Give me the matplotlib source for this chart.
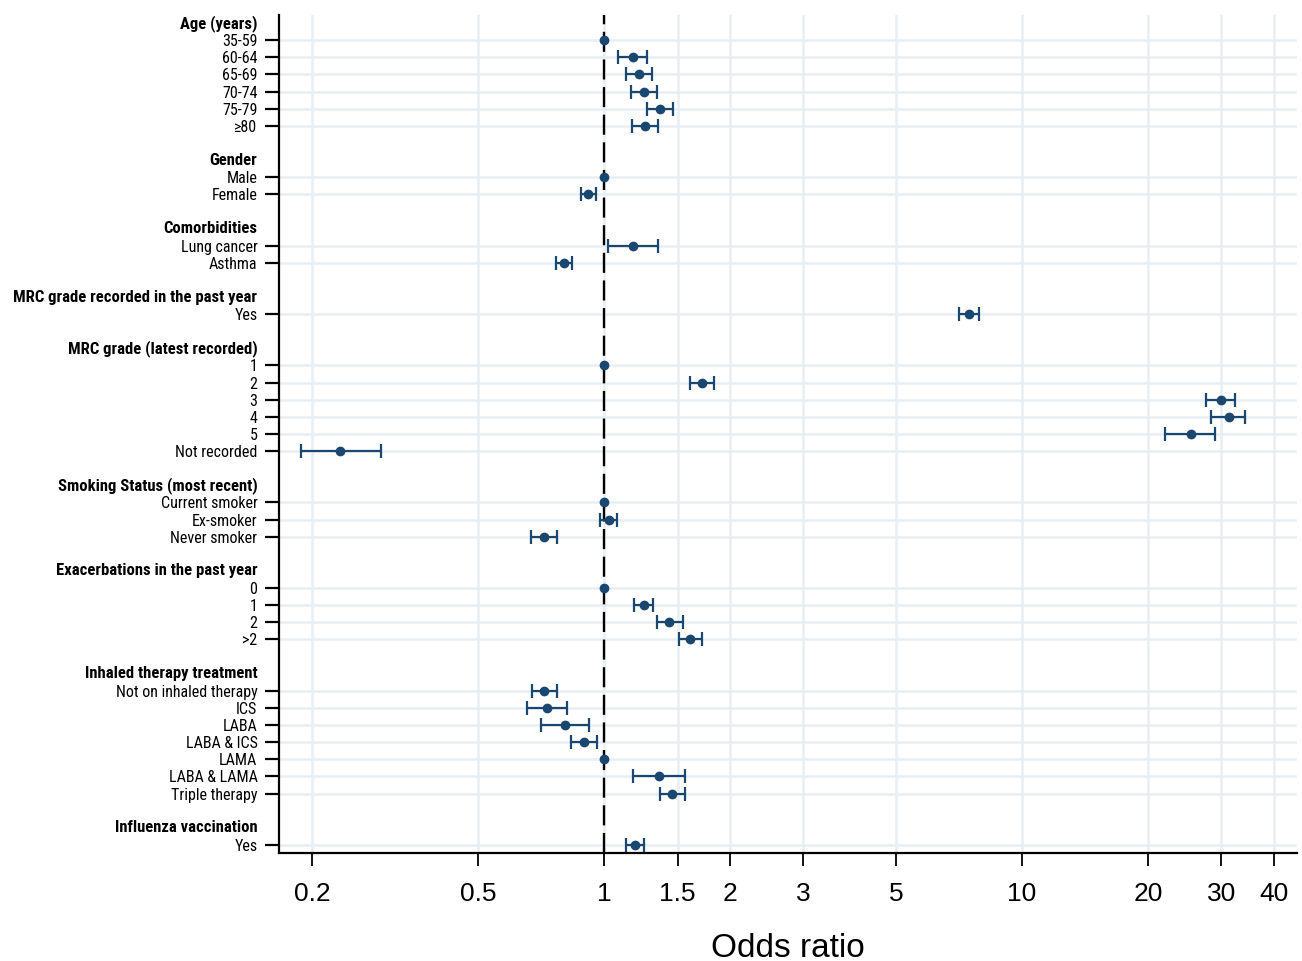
import numpy as np
import matplotlib
matplotlib.use("Agg")
import matplotlib.pyplot as plt
from matplotlib import font_manager
from matplotlib.ticker import NullLocator

# group headers and the rows under each
headers = ["Age (years)", "Gender", "Comorbidities",
           "MRC grade recorded in the past year", "MRC grade (latest recorded)",
           "Smoking Status (most recent)", "Exacerbations in the past year",
           "Inhaled therapy treatment", "Influenza vaccination"]

items = [
    ["35-59", "60-64", "65-69", "70-74", "75-79", "\u226580"],
    ["Male", "Female"],
    ["Lung cancer", "Asthma"],
    ["Yes"],
    ["1", "2", "3", "4", "5", "Not recorded"],
    ["Current smoker", "Ex-smoker", "Never smoker"],
    ["0", "1", "2", ">2"],
    ["Not on inhaled therapy", "ICS", "LABA", "LABA & ICS", "LAMA", "LABA & LAMA", "Triple therapy"],
    ["Yes"],
]

# odds ratios (None = reference category, no CI)
odds = [
    [1.0, 1.17, 1.21, 1.245, 1.36, 1.255],
    [1.0, 0.917],
    [1.17, 0.80],
    [7.47],
    [1.0, 1.716, 29.9, 31.2, 25.3, 0.234],
    [1.0, 1.025, 0.717],
    [1.0, 1.245, 1.434, 1.607],
    [0.719, 0.730, 0.808, 0.896, 1.0, 1.353, 1.456],
    [1.183],
]
lower = [
    [None, 1.083, 1.128, 1.159, 1.264, 1.168],
    [None, 0.880],
    [1.022, 0.766],
    [7.07],
    [None, 1.603, 27.6, 28.4, 22.0, 0.188],
    [None, 0.976, 0.668],
    [None, 1.180, 1.336, 1.512],
    [0.671, 0.656, 0.708, 0.835, None, 1.174, 1.360],
    [1.128],
]
upper = [
    [None, 1.267, 1.303, 1.336, 1.463, 1.349],
    [None, 0.957],
    [1.343, 0.839],
    [7.91],
    [None, 1.837, 32.4, 34.1, 29.0, 0.293],
    [None, 1.077, 0.772],
    [None, 1.309, 1.543, 1.716],
    [0.770, 0.814, 0.923, 0.962, None, 1.562, 1.559],
    [1.245],
]

xticks = [0.2, 0.5, 1, 1.5, 2, 3, 5, 10, 20, 30, 40]
xtick_labels = ["0.2", "0.5", "1", "1.5", "2", "3", "5", "10", "20", "30", "40"]

navy = "#1a476f"
gridc = "#e7eff2"


# look for a condensed sans face for the row labels
def pick_narrow():
    names = {f.name for f in font_manager.fontManager.ttflist}
    for n in ["Liberation Sans Narrow", "Arial Narrow", "Roboto Condensed",
              "Open Sans Condensed", "Noto Sans Condensed", "DejaVu Sans Condensed"]:
        if n in names:
            return n, "normal"
    for pref in ["Liberation Sans", "Noto Sans", "Roboto", "Open Sans", "DejaVu Sans", "Inter"]:
        for f in font_manager.fontManager.ttflist:
            st = f.stretch
            if isinstance(st, str):
                st = font_manager.stretch_dict.get(st, 500)
            if f.name == pref and st <= 400:
                return pref, "condensed"
    return None, "normal"


narrow, stretch = pick_narrow()
if narrow:
    plt.rcParams["font.family"] = [narrow, "DejaVu Sans"]
    plt.rcParams["font.stretch"] = stretch
    ysize, hsize = 11.5, 12
else:
    plt.rcParams["font.family"] = ["Liberation Sans", "DejaVu Sans"]
    ysize, hsize = 10, 10
axis_font = ["Liberation Sans", "DejaVu Sans"]

# lay the rows out: header, items, blank line
header_pos = []
row_pos, row_lab, est, lo, hi = [], [], [], [], []
r = 0
for h, its, o, l, u in zip(headers, items, odds, lower, upper):
    header_pos.append(r)
    r += 1
    for name, oo, ll, uu in zip(its, o, l, u):
        row_pos.append(r)
        row_lab.append(name)
        est.append(oo)
        lo.append(np.nan if ll is None else ll)
        hi.append(np.nan if uu is None else uu)
        r += 1
    r += 1
n_rows = r - 1

row_pos = np.array(row_pos)
est = np.array(est, dtype=float)
lo = np.array(lo, dtype=float)
hi = np.array(hi, dtype=float)

fig = plt.figure(figsize=(13.02, 9.61), dpi=100)
ax = fig.add_axes([0.2143, 0.1124, 0.9962 - 0.2143, 0.9844 - 0.1124])

ax.set_xscale("log")
ax.set_xlim(0.1669, 45.5)
ax.set_ylim(n_rows - 1 + 0.47, -0.47)

for y in row_pos:
    ax.axhline(y, color=gridc, lw=1.8, zorder=0)
for x in xticks:
    ax.axvline(x, color=gridc, lw=1.8, zorder=0)

ax.axvline(1, color="black", lw=1.7, linestyle=(0, (8.5, 3.2)), zorder=2)

has_ci = ~np.isnan(lo)
ax.errorbar(est[has_ci], row_pos[has_ci],
            xerr=[est[has_ci] - lo[has_ci], hi[has_ci] - est[has_ci]],
            fmt="none", ecolor=navy, elinewidth=1.6, capsize=5.3, capthick=1.6, zorder=3)
ax.plot(est, row_pos, "o", color=navy, ms=6, zorder=4)

ax.set_xticks(xticks, xtick_labels, fontfamily=axis_font, fontsize=19)
ax.xaxis.set_minor_locator(NullLocator())
ax.tick_params(axis="x", length=9, width=1.3, pad=12, color="black")

ax.set_yticks(row_pos)
ax.set_yticklabels(row_lab)
ax.tick_params(axis="y", length=10, width=1.6, labelsize=ysize, pad=5.5, colors="black")
ax.yaxis.set_minor_locator(NullLocator())

for h, y in zip(headers, header_pos):
    ax.annotate(h, xy=(0, y), xycoords=("axes fraction", "data"),
                xytext=(-15.6, 0), textcoords="offset points",
                ha="right", va="center", fontsize=hsize, fontweight="bold")

for s in ["top", "right"]:
    ax.spines[s].set_visible(False)
for s in ["left", "bottom"]:
    ax.spines[s].set_linewidth(1.6)
    ax.spines[s].set_color("black")

ax.set_xlabel("Odds ratio", fontsize=24, fontfamily=axis_font, labelpad=19)

fig.savefig("out.png", dpi=100, facecolor="white")
